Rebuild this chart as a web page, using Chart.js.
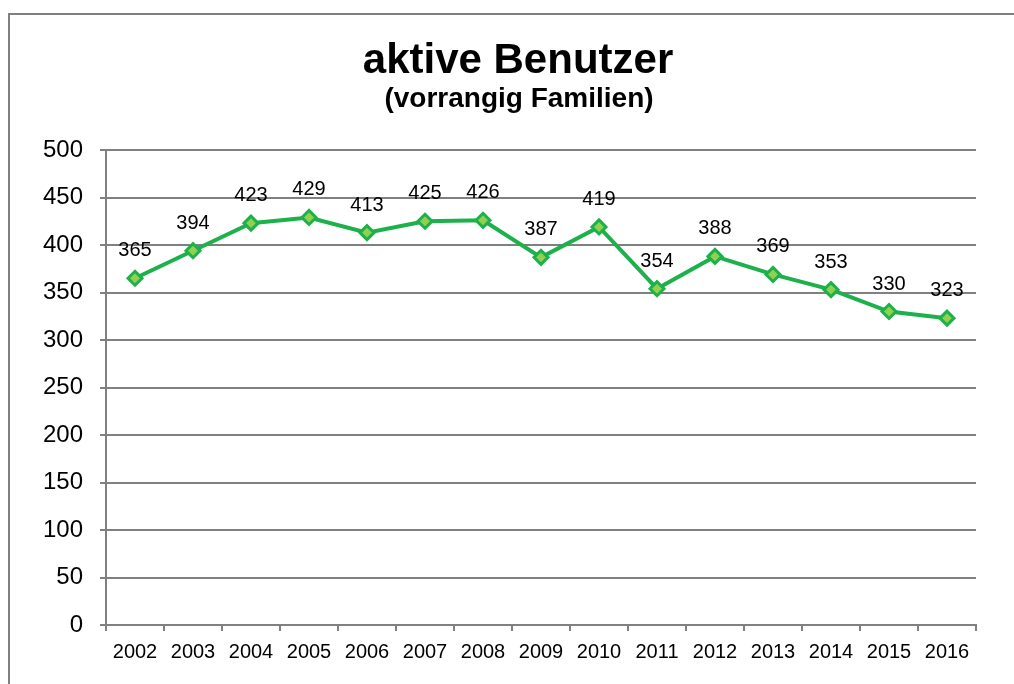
<!DOCTYPE html>
<html>
<head>
<meta charset="utf-8">
<script src="https://cdn.jsdelivr.net/npm/chart.js@4"></script>
<style>
  html, body { margin: 0; padding: 0; background: #fff; overflow: hidden; }
  #frame {
    position: absolute; left: 8px; top: 13px;
    width: 1100px; height: 800px;
    border-left: 2px solid #7f7f7f; border-top: 2px solid #7f7f7f;
  }
  #wrap { position: absolute; left: 0; top: 0; width: 1014px; height: 684px; }
</style>
</head>
<body>
<div id="frame"></div>
<div id="wrap"><canvas id="lineChart" width="1014" height="684"></canvas></div>
<script>
let years = ['2002', '2003', '2004', '2005', '2006', '2007', '2008', '2009',
  '2010', '2011', '2012', '2013', '2014', '2015', '2016'];
let users = [365, 394, 423, 429, 413, 425, 426, 387, 419, 354, 388, 369, 353, 330, 323];
let titleText = 'aktive Benutzer';
let subtitleText = '(vorrangig Familien)';

let green = '#1db14b';
let lightGreen = '#92d050';
let gridGray = '#808080';

// titles + value labels drawn by hand
let textPlugin = {
  id: 'textPlugin',
  afterDatasetsDraw(chart) {
    let ctx = chart.ctx;
    ctx.save();
    ctx.fillStyle = '#000';
    ctx.textAlign = 'center';
    ctx.textBaseline = 'alphabetic';
    ctx.font = 'bold 42px "Liberation Sans", Arial, sans-serif';
    ctx.fillText(titleText, 518, 73);
    ctx.font = 'bold 28px "Liberation Sans", Arial, sans-serif';
    ctx.fillText(subtitleText, 519, 107);

    ctx.font = '20px "Liberation Sans", Arial, sans-serif';
    let meta = chart.getDatasetMeta(0);
    meta.data.forEach((pt, i) => {
      ctx.fillText(String(users[i]), pt.x, pt.y - 22);
    });
    ctx.restore();
  }
};

var lineCtx = document.getElementById('lineChart').getContext('2d');
var chart1 = new Chart(lineCtx, {
  type: 'line',
  data: {
    labels: years,
    datasets: [{
      label: 'aktive Benutzer',
      data: users,
      borderColor: green,
      borderWidth: 4,
      pointStyle: 'rectRot',
      pointRadius: 7,
      pointBorderWidth: 3,
      pointBorderColor: green,
      pointBackgroundColor: lightGreen,
      tension: 0
    }]
  },
  options: {
    responsive: false,
    animation: false,
    devicePixelRatio: 1,
    layout: {
      padding: { top: 150, right: 38, left: 0, bottom: 0 }
    },
    plugins: {
      legend: { display: false },
      tooltip: { enabled: false },
      title: { display: false }
    },
    scales: {
      x: {
        offset: true,
        afterFit(scale) { scale.height = 59; },
        grid: {
          offset: true,
          drawOnChartArea: false,
          color: gridGray,
          lineWidth: 2,
          tickLength: 6
        },
        border: { color: gridGray, width: 2 },
        ticks: {
          color: '#000',
          padding: 9,
          maxRotation: 0,
          font: { family: '"Liberation Sans", Arial, sans-serif', size: 20 }
        }
      },
      y: {
        min: 0,
        max: 500,
        afterFit(scale) { scale.width = 106; },
        grid: {
          color: gridGray,
          lineWidth: 2,
          tickLength: 6
        },
        border: { color: gridGray, width: 2 },
        ticks: {
          stepSize: 50,
          color: '#000',
          padding: 17,
          font: { family: '"Liberation Sans", Arial, sans-serif', size: 24 }
        }
      }
    }
  },
  plugins: [textPlugin]
});
</script>
</body>
</html>
